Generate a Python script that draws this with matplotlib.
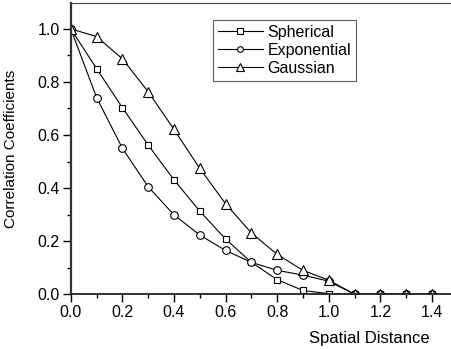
import numpy as np
import matplotlib.pyplot as plt
from matplotlib.ticker import MultipleLocator

plt.rcParams['font.family'] = ['Liberation Sans', 'DejaVu Sans']

# Spatial distance values
distance = [0.0, 0.1, 0.2, 0.3, 0.4, 0.5, 0.6, 0.7, 0.8, 0.9, 1.0, 1.1, 1.2, 1.3, 1.4]

# Correlation coefficients for each model
spherical = [1.0, 0.850, 0.703, 0.562, 0.431, 0.313, 0.208, 0.120, 0.055, 0.014, 0.002, 0.0, 0.0, 0.0, 0.0]
exponential = [1.0, 0.741, 0.550, 0.405, 0.299, 0.223, 0.165, 0.120, 0.090, 0.072, 0.049, 0.0, 0.0, 0.0, 0.0]
gaussian = [1.0, 0.971, 0.887, 0.763, 0.621, 0.474, 0.341, 0.231, 0.150, 0.090, 0.053, 0.0, 0.0, 0.0, 0.0]

fig = plt.figure(figsize=(4.51, 3.49), dpi=100)
ax = fig.add_axes([0.157, 0.157, 0.843, 0.834])

style = dict(color='black', linewidth=0.8, markerfacecolor='white',
             markeredgecolor='black', markeredgewidth=0.8)
ax.plot(distance, spherical, marker='s', markersize=5, label='Spherical', **style)
ax.plot(distance, exponential, marker='o', markersize=5.5, label='Exponential', **style)
ax.plot(distance, gaussian, marker='^', markersize=7, label='Gaussian', **style)

ax.set_xlim(0, 1.474)
ax.set_ylim(0, 1.097)
ax.xaxis.set_minor_locator(MultipleLocator(0.1))
ax.yaxis.set_minor_locator(MultipleLocator(0.1))
ax.set_xticks(np.arange(0, 1.41, 0.2))
ax.set_yticks(np.arange(0, 1.01, 0.2))
ax.xaxis.set_major_formatter(plt.FormatStrFormatter('%.1f'))
ax.yaxis.set_major_formatter(plt.FormatStrFormatter('%.1f'))

ax.tick_params(which='major', direction='out', length=6, width=1.0, labelsize=11.5, pad=2)
ax.tick_params(which='minor', direction='out', length=3, width=1.0)

ax.spines['right'].set_visible(False)
ax.spines['top'].set_linewidth(0.8)
ax.spines['top'].set_color('#444444')
ax.spines['left'].set_linewidth(1.6)
ax.spines['bottom'].set_linewidth(1.3)
ax.spines['left'].set_color('#333333')
ax.spines['bottom'].set_color('#222222')

ax.set_ylabel('Correlation Coefficients', fontsize=11)
ax.yaxis.set_label_coords(-0.14, 0.5)
ax.set_xlabel('Spatial Distance', fontsize=12)
ax.xaxis.set_label_coords(0.784, -0.125)

leg = ax.legend(loc='upper left', bbox_to_anchor=(0.374, 0.943), fontsize=11.5,
                frameon=True, fancybox=False, handlelength=2.8, handletextpad=0.3,
                borderpad=0.3, labelspacing=0.2, borderaxespad=0, markerscale=0.75)
leg.get_frame().set_edgecolor('#333333')
leg.get_frame().set_linewidth(0.8)

fig.savefig('out.png', dpi=100)
